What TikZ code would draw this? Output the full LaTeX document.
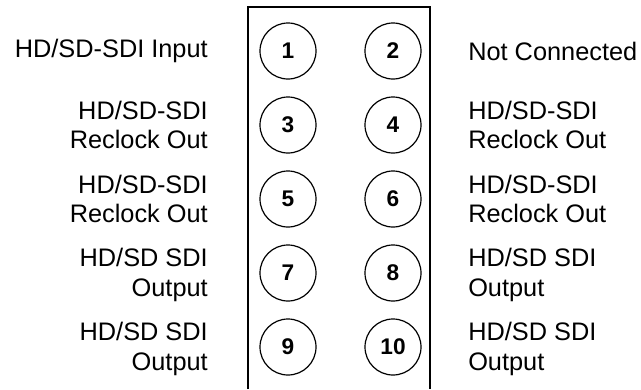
\documentclass[tikz,border=0pt]{standalone}
\usepackage{fontspec}
\setmainfont{Liberation Sans}
\tikzset{
  jack/.style={draw,circle,line width=0.9pt,minimum size=42pt,inner sep=0pt,
    font=\fontsize{17}{19}\selectfont\bfseries},
  lefttext/.style={anchor=east,align=right,inner sep=0pt,
    font=\fontsize{19}{22}\selectfont},
  righttext/.style={anchor=west,align=left,inner sep=0pt,
    font=\fontsize{19}{22}\selectfont}
}
\begin{document}
\begin{tikzpicture}[x=0.75pt,y=-0.75pt]
                \useasboundingbox (0,0) rectangle (641,389);
                \draw[line width=1.4pt] (248,389) -- (248,7) -- (430,7) -- (430,389);

                \node[jack] (j1) at (288,51) {1};
                \node[jack] (j2) at (393,51) {2};
                \node[jack] (j3) at (288,125) {3};
                \node[jack] (j4) at (393,125) {4};
                \node[jack] (j5) at (288,199) {5};
                \node[jack] (j6) at (393,199) {6};
                \node[jack] (j7) at (288,273) {7};
                \node[jack] (j8) at (393,273) {8};
                \node[jack] (j9) at (288,347) {9};
                \node[jack] (j10) at (393,347) {10};

                \node[lefttext] (l1) at (208,51) {HD/SD-SDI Input};
                \node[lefttext] (l3) at (208,125) {HD/SD-SDI\\Reclock Out};
                \node[lefttext] (l5) at (208,199) {HD/SD-SDI\\Reclock Out};
                \node[lefttext] (l7) at (208,275) {HD/SD SDI\\Output};
                \node[lefttext] (l9) at (208,349) {HD/SD SDI\\Output};

                \node[righttext] (r2) at (468,51) {Not Connected};
                \node[righttext] (r4) at (468,125) {HD/SD-SDI\\Reclock Out};
                \node[righttext] (r6) at (468,199) {HD/SD-SDI\\Reclock Out};
                \node[righttext] (r8) at (468,275) {HD/SD SDI\\Output};
                \node[righttext] (r10) at (468,349) {HD/SD SDI\\Output};
            \end{tikzpicture}
\end{document}
